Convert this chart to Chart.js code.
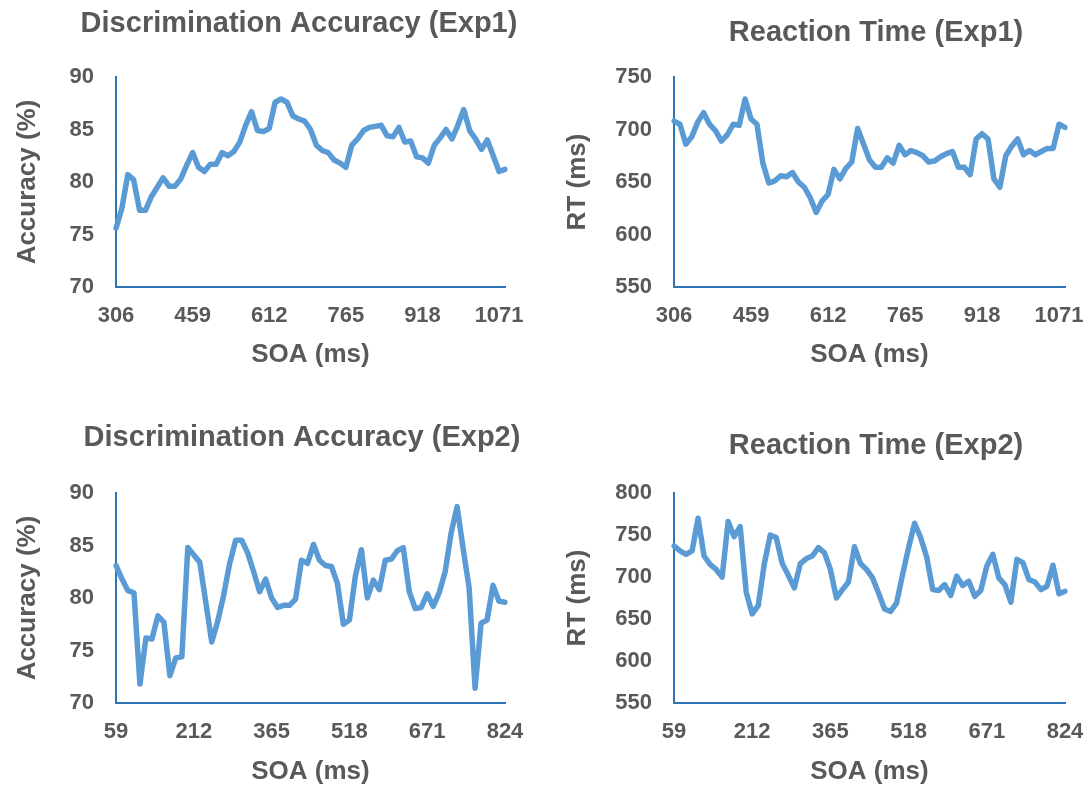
<!DOCTYPE html>
<html>
<head>
<meta charset="utf-8">
<title>SOA charts</title>
<script src="https://cdn.jsdelivr.net/npm/chart.js@4.4.1/dist/chart.umd.min.js"></script>
<style>
  html, body { margin: 0; padding: 0; background: #ffffff; overflow: hidden; }
  #wrap { position: relative; width: 1091px; height: 790px; overflow: hidden; }
  .box { position: absolute; height: 395px; }
</style>
</head>
<body>
<div id="wrap">
  <div class="box" id="b1" style="left:0px;top:0px"><canvas id="accExp1"></canvas></div>
  <div class="box" id="b3" style="left:0px;top:395px"><canvas id="accExp2"></canvas></div>
  <div class="box" id="b2" style="left:546px;top:0px"><canvas id="rtExp1"></canvas></div>
  <div class="box" id="b4" style="left:546px;top:395px"><canvas id="rtExp2"></canvas></div>
</div>
<script>
// SOA values (ms), one per frame at 85 Hz
const exp1Soa = [306, 318, 329, 341, 353, 365, 376, 388, 400, 412, 424, 435, 447, 459, 471, 482, 494, 506, 518, 529,
  541, 553, 565, 576, 588, 600, 612, 624, 635, 647, 659, 671, 682, 694, 706, 718, 729, 741, 753, 765,
  776, 788, 800, 812, 824, 835, 847, 859, 871, 882, 894, 906, 918, 929, 941, 953, 965, 976, 988, 1000,
  1012, 1024, 1035, 1047, 1059, 1071, 1082];
const exp2Soa = [59, 71, 82, 94, 106, 118, 129, 141, 153, 165, 176, 188, 200, 212, 224, 235, 247, 259, 271, 282,
  294, 306, 318, 329, 341, 353, 365, 376, 388, 400, 412, 424, 435, 447, 459, 471, 482, 494, 506, 518,
  529, 541, 553, 565, 576, 588, 600, 612, 624, 635, 647, 659, 671, 682, 694, 706, 718, 729, 741, 753,
  765, 776, 788, 800, 812, 824];

// x tick labels shown
const exp1Ticks = ['306', '459', '612', '765', '918', '1071'];
const exp2Ticks = ['59', '212', '365', '518', '671', '824'];

// accuracy (%) and reaction time (ms)
const exp1Acc = [75.6, 77.5, 80.7, 80.2, 77.3, 77.3, 78.6, 79.5, 80.4, 79.6,
  79.6, 80.3, 81.6, 82.8, 81.4, 81.0, 81.7, 81.7, 82.8, 82.5,
  82.9, 83.8, 85.4, 86.7, 84.9, 84.8, 85.1, 87.6, 87.9, 87.6,
  86.3, 86.0, 85.8, 85.0, 83.5, 83.0, 82.8, 82.1, 81.8, 81.4,
  83.5, 84.1, 84.9, 85.2, 85.3, 85.4, 84.4, 84.3, 85.2, 83.8,
  83.9, 82.4, 82.3, 81.8, 83.5, 84.2, 85.0, 84.1, 85.4, 86.9,
  84.9, 84.1, 83.1, 84.0, 82.5, 81.0, 81.2];
const exp1Rt = [708, 705, 686, 693, 707, 716, 705, 699, 689, 695,
  705, 704, 729, 710, 705, 668, 649, 651, 656, 655,
  659, 650, 645, 635, 621, 632, 638, 662, 653, 663,
  669, 701, 686, 671, 664, 664, 673, 668, 685, 676,
  680, 678, 675, 669, 670, 674, 677, 679, 664, 664,
  657, 691, 696, 691, 653, 645, 675, 684, 691, 676,
  680, 676, 679, 682, 682, 705, 702];
const exp2Acc = [83.1, 81.8, 80.7, 80.5, 71.8, 76.2, 76.1, 78.3, 77.7, 72.6,
  74.3, 74.4, 84.8, 84.1, 83.4, 79.6, 75.8, 77.8, 80.3, 83.3,
  85.5, 85.5, 84.3, 82.5, 80.6, 81.8, 80.0, 79.1, 79.3, 79.3,
  79.9, 83.6, 83.3, 85.1, 83.6, 83.1, 83.0, 81.4, 77.5, 77.9,
  82.1, 84.6, 80.0, 81.7, 80.8, 83.6, 83.7, 84.5, 84.8, 80.6,
  79.0, 79.1, 80.4, 79.2, 80.5, 82.5, 86.2, 88.7, 84.7, 81.0,
  71.4, 77.6, 77.9, 81.2, 79.7, 79.6];
const exp2Rt = [737, 731, 727, 731, 770, 725, 715, 709, 700, 766,
  748, 760, 682, 656, 666, 715, 750, 747, 716, 702,
  687, 716, 722, 725, 735, 729, 709, 675, 685, 694,
  736, 716, 709, 699, 681, 662, 659, 669, 703, 735,
  764, 747, 724, 685, 684, 691, 678, 701, 690, 695,
  677, 684, 713, 727, 699, 691, 670, 721, 717, 697,
  694, 685, 689, 714, 680, 683];

const textColor = '#595959';
const axisColor = '#2E75B6';
const lineColor = '#5B9BD5';
Chart.defaults.font.family = '"Liberation Sans", Arial, sans-serif';

// geometry values are in box pixels; the box is made 2*titleX wide so the
// full-width title is centred on titleX, and an empty right axis fills the rest
function makeChart(id, boxId, cfg) {
  const W = 2 * cfg.titleX, H = 395;
  document.getElementById(boxId).style.width = W + 'px';
  const axisTitleHalf = 26 * 1.2 / 2;
  const titleTop = cfg.titleY - cfg.titleSize * 0.6;
  return new Chart(document.getElementById(id), {
    type: 'line',
    data: {
      labels: cfg.soa.map(String),
      datasets: [{
        data: cfg.values,
        borderColor: lineColor,
        borderWidth: 5.5,
        pointRadius: 0,
        tension: 0,
        borderJoinStyle: 'round',
        borderCapStyle: 'round',
        fill: false
      }]
    },
    options: {
      responsive: true,
      maintainAspectRatio: false,
      animation: false,
      layout: { padding: 0 },
      plugins: {
        legend: { display: false },
        tooltip: { enabled: false },
        title: {
          display: true,
          text: cfg.title,
          color: textColor,
          font: { size: cfg.titleSize, weight: 'bold' },
          padding: { top: titleTop, bottom: cfg.plotTop - titleTop - cfg.titleSize * 1.2 }
        }
      },
      scales: {
        x: {
          type: 'category',
          offset: false,
          grid: { display: false, drawTicks: false, tickLength: 0 },
          border: { display: true, color: axisColor, width: 2 },
          ticks: {
            autoSkip: false,
            maxRotation: 0,
            minRotation: 0,
            padding: 16,
            color: textColor,
            font: { size: 22, weight: 'bold' },
            callback: function (value) {
              const lab = this.getLabelForValue(value);
              return cfg.ticks.includes(lab) ? lab : null;
            }
          },
          title: {
            display: true,
            text: 'SOA (ms)',
            color: textColor,
            font: { size: 26, weight: 'bold' },
            padding: { top: 0, bottom: H - cfg.xTitleY - axisTitleHalf }
          },
          afterFit: function (scale) { scale.height = H - cfg.plotBottom; }
        },
        y: {
          min: cfg.yMin,
          max: cfg.yMax,
          grid: { display: false, drawTicks: false, tickLength: 0 },
          border: { display: true, color: axisColor, width: 2 },
          ticks: {
            stepSize: cfg.yStep,
            padding: cfg.plotLeft - cfg.tickRight,
            color: textColor,
            font: { size: 22, weight: 'bold' }
          },
          title: {
            display: true,
            text: cfg.yTitle,
            color: textColor,
            font: { size: 26, weight: 'bold' },
            padding: { top: cfg.yTitleX - axisTitleHalf, bottom: 0 }
          },
          afterFit: function (scale) { scale.width = cfg.plotLeft; }
        },
        spacer: {
          type: 'linear',
          position: 'right',
          grid: { display: false, drawTicks: false },
          border: { display: false },
          ticks: { display: false },
          afterFit: function (scale) { scale.width = W - cfg.plotRight; }
        }
      }
    }
  });
}

makeChart('accExp1', 'b1', {
  soa: exp1Soa, values: exp1Acc, ticks: exp1Ticks,
  title: 'Discrimination Accuracy (Exp1)', yTitle: 'Accuracy (%)',
  yMin: 70, yMax: 90, yStep: 5,
  titleSize: 29, titleX: 299, titleY: 24,
  plotLeft: 116, plotRight: 505, plotTop: 77, plotBottom: 287,
  tickRight: 94, yTitleX: 28, xTitleY: 355
});
makeChart('accExp2', 'b3', {
  soa: exp2Soa, values: exp2Acc, ticks: exp2Ticks,
  title: 'Discrimination Accuracy (Exp2)', yTitle: 'Accuracy (%)',
  yMin: 70, yMax: 90, yStep: 5,
  titleSize: 29, titleX: 302, titleY: 43,
  plotLeft: 116, plotRight: 505, plotTop: 98, plotBottom: 308,
  tickRight: 94, yTitleX: 28, xTitleY: 377
});
makeChart('rtExp1', 'b2', {
  soa: exp1Soa, values: exp1Rt, ticks: exp1Ticks,
  title: 'Reaction Time (Exp1)', yTitle: 'RT (ms)',
  yMin: 550, yMax: 750, yStep: 50,
  titleSize: 29, titleX: 330, titleY: 33,
  plotLeft: 128, plotRight: 519, plotTop: 77, plotBottom: 287,
  tickRight: 106, yTitleX: 32, xTitleY: 355
});
makeChart('rtExp2', 'b4', {
  soa: exp2Soa, values: exp2Rt, ticks: exp2Ticks,
  title: 'Reaction Time (Exp2)', yTitle: 'RT (ms)',
  yMin: 550, yMax: 800, yStep: 50,
  titleSize: 29, titleX: 330, titleY: 51,
  plotLeft: 128, plotRight: 519, plotTop: 98, plotBottom: 308,
  tickRight: 106, yTitleX: 32, xTitleY: 377
});
</script>
</body>
</html>
